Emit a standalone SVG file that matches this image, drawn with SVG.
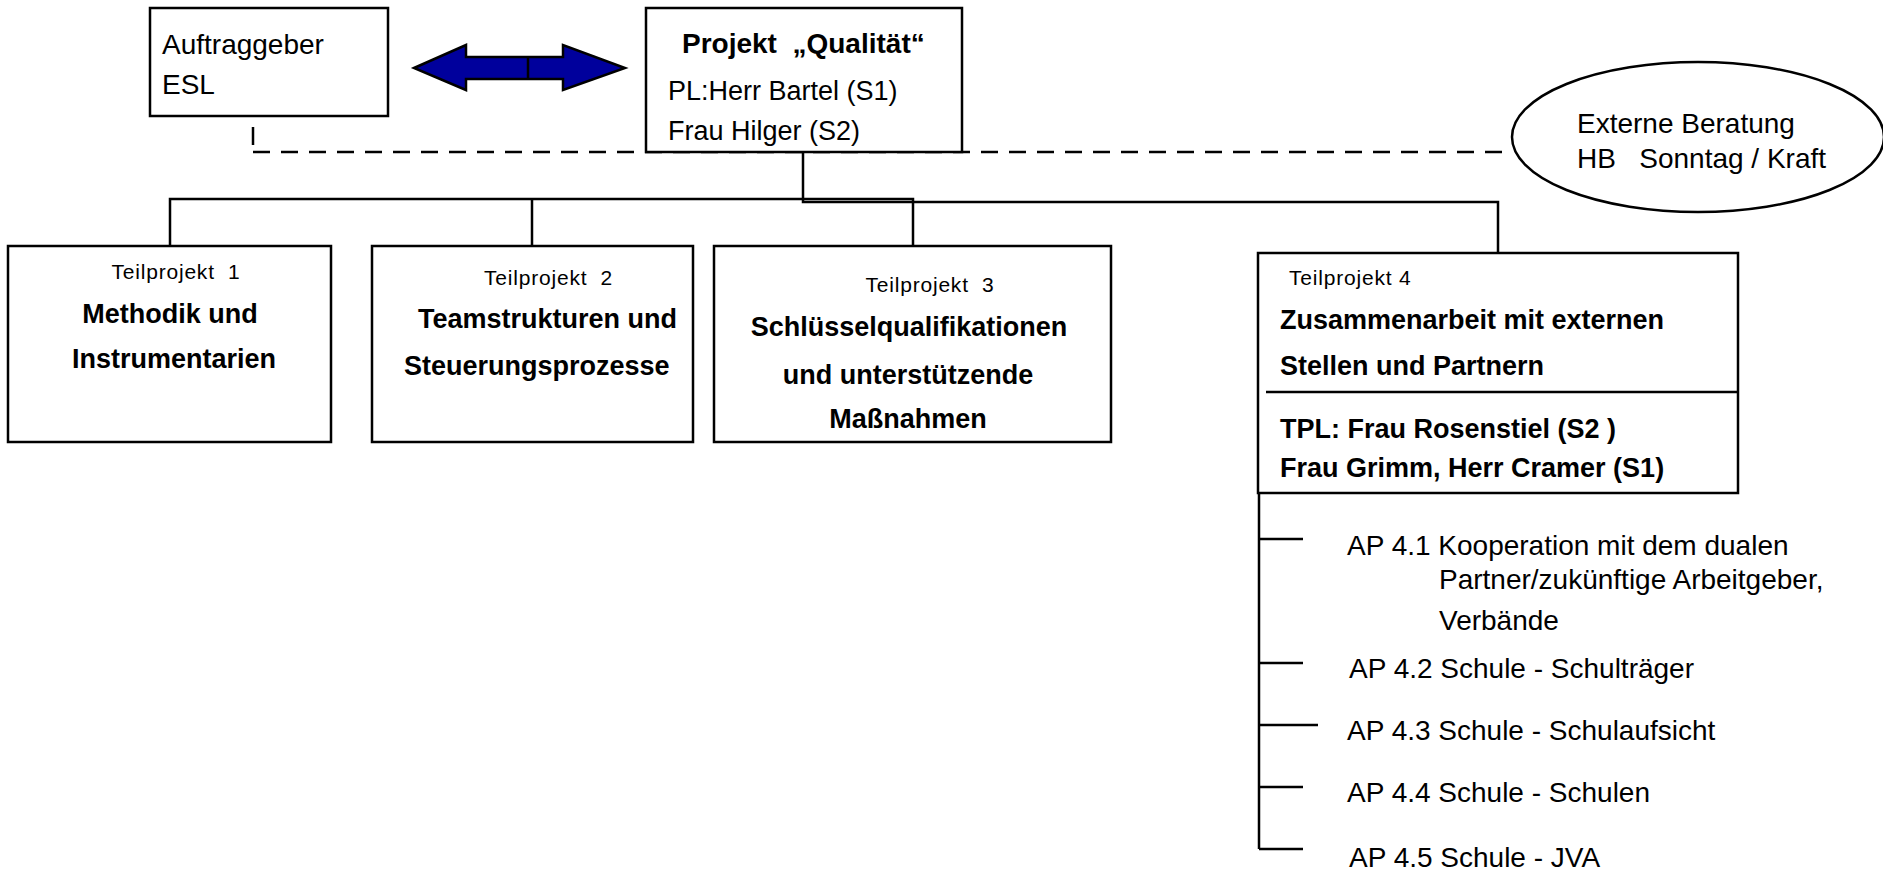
<svg xmlns="http://www.w3.org/2000/svg" width="1883" height="873" viewBox="0 0 1883 873">
<style>
.box{fill:#fff;stroke:#000;stroke-width:2.5}
.ln{stroke:#000;stroke-width:2.5;fill:none}
.dash{stroke-dasharray:17 11}
text{font-family:"Liberation Sans",Arial,sans-serif;font-size:28px;fill:#000;white-space:pre}
.b{font-weight:bold;font-size:27px}
.s{font-size:21px;letter-spacing:0.8px}
.m{text-anchor:middle}
.r27{font-size:27px}
</style>
<rect width="1883" height="873" fill="#fff"/>
<g id="connectors">
<line class="ln dash" x1="253" y1="152" x2="1513" y2="152"/>
<line class="ln" x1="253" y1="127" x2="253" y2="145" stroke-width="2"/>
<polyline class="ln" points="170,246 170,199 913,199 913,246"/>
<line class="ln" x1="532" y1="199" x2="532" y2="246"/>
<polyline class="ln" points="803,152 803,202 1498,202 1498,253"/>
<line class="ln" x1="1259" y1="493" x2="1259" y2="849"/>
<line class="ln" x1="1259" y1="539" x2="1303" y2="539"/>
<line class="ln" x1="1259" y1="663" x2="1303" y2="663"/>
<line class="ln" x1="1259" y1="725" x2="1318" y2="725"/>
<line class="ln" x1="1259" y1="787" x2="1303" y2="787"/>
<line class="ln" x1="1259" y1="849" x2="1303" y2="849"/>
<g id="double-arrow">
<polygon points="414,68 466,45 466,57 563,57 563,45 625,68 563,90 563,79 466,79 466,90" fill="#00009c" stroke="#000" stroke-width="2.5" stroke-linejoin="miter"/>
<line class="ln" x1="528" y1="57" x2="528" y2="79"/>
</g>
</g>
<g id="auftraggeber">
<rect class="box" x="150" y="8" width="238" height="108"/>
<text x="162" y="54">Auftraggeber</text>
<text x="162" y="94">ESL</text>
</g>
<g id="projekt">
<rect class="box" x="646" y="8" width="316" height="144"/>
<text class="b" x="682" y="53" style="font-size:28px">Projekt  „Qualität“</text>
<text class="r27" x="668" y="100">PL:Herr Bartel (S1)</text>
<text class="r27" x="668" y="140">Frau Hilger (S2)</text>
</g>
<g id="beratung">
<ellipse cx="1698" cy="137" rx="186" ry="75" fill="#fff" stroke="#000" stroke-width="2.5"/>
<text x="1577" y="133">Externe Beratung</text>
<text x="1577" y="168">HB   Sonntag / Kraft</text>
</g>
<g id="tp1">
<rect class="box" x="8" y="246" width="323" height="196"/>
<text class="s m" x="176" y="279">Teilprojekt  1</text>
<text class="b m" x="170" y="323">Methodik und</text>
<text class="b m" x="174" y="368">Instrumentarien</text>
</g>
<g id="tp2">
<rect class="box" x="372" y="246" width="321" height="196"/>
<text class="s" x="484" y="285">Teilprojekt  2</text>
<text class="b" x="418" y="328">Teamstrukturen und</text>
<text class="b" x="404" y="375">Steuerungsprozesse</text>
</g>
<g id="tp3">
<rect class="box" x="714" y="246" width="397" height="196"/>
<text class="s m" x="930" y="292">Teilprojekt  3</text>
<text class="b m" x="909" y="336">Schlüsselqualifikationen</text>
<text class="b m" x="908" y="384">und unterstützende</text>
<text class="b m" x="908" y="428">Maßnahmen</text>
</g>
<g id="tp4">
<rect class="box" x="1258" y="253" width="480" height="240"/>
<line class="ln" x1="1266" y1="392" x2="1738" y2="392"/>
<text class="s" x="1289" y="285">Teilprojekt 4</text>
<text class="b" x="1280" y="329">Zusammenarbeit mit externen</text>
<text class="b" x="1280" y="375">Stellen und Partnern</text>
<text class="b" x="1280" y="438">TPL: Frau Rosenstiel (S2 )</text>
<text class="b" x="1280" y="477">Frau Grimm, Herr Cramer (S1)</text>
</g>
<g id="ap41">
<text x="1347" y="555">AP 4.1 Kooperation mit dem dualen</text>
<text x="1439" y="589">Partner/zukünftige Arbeitgeber,</text>
<text x="1439" y="630">Verbände</text>
</g>
<g id="ap42"><text x="1349" y="678">AP 4.2 Schule - Schulträger</text></g>
<g id="ap43"><text x="1347" y="740">AP 4.3 Schule - Schulaufsicht</text></g>
<g id="ap44"><text x="1347" y="802">AP 4.4 Schule - Schulen</text></g>
<g id="ap45"><text x="1349" y="867">AP 4.5 Schule - JVA</text></g>
</svg>
